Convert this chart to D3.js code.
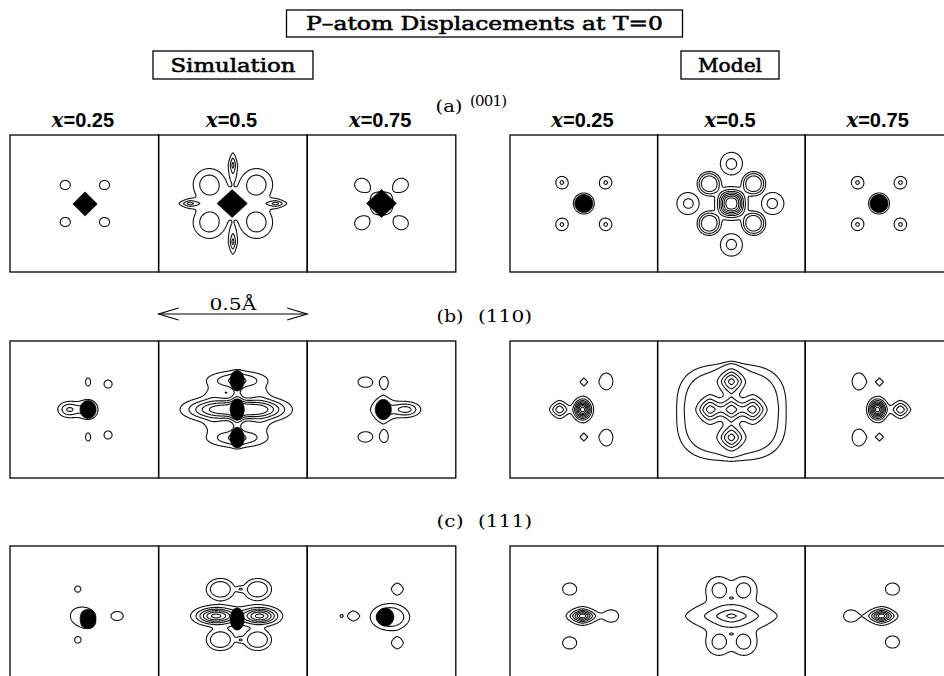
<!DOCTYPE html>
<html>
<head>
<meta charset="utf-8">
<script src="https://cdn.jsdelivr.net/npm/d3@7"></script>
<style>
  body { margin: 0; background: #fff; }
  svg { display: block; }
</style>
</head>
<body>
<svg id="chart" width="944" height="676"></svg>
<script>
// ---------------------------------------------------------------
// Displacement density maps of the P atom, drawn as contour plots.
// Coordinates in pm (panel spans 50 pm = 0.5 Å across).
// peaks: [x, y, amplitude, sx, sy, profile exponent, (norm exponent)]
//        -> line contours; the norm defaults to min(profile, 2)
// cores: [x, y, rx, ry, exponent] -> filled black cores
// ---------------------------------------------------------------
const compositions = ["0.25", "0.5", "0.75"];
const groupNames = ["Simulation", "Model"];
const rowTags = ["(a)", "(b)", "(c)"];
const rowPlanes = ["(001)", "(110)", "(111)"];
const titleText = "P\u2013atom Displacements at T=0";
const scaleText = "0.5\u00C5";

// ----- (a) (001) -----
const simAPeaks = [
  [[-6.4, 6.25, 1.6, 2.47, 2.25, 2], [6.8, 6.25, 1.6, 2.47, 2.25, 2],
   [-6.4, -6.25, 1.6, 2.47, 2.25, 2], [6.8, -6.25, 1.6, 2.47, 2.25, 2]],
  [[-7.95, 6.4, 2.9, 5.24, 5.24, 2], [7.95, 6.4, 2.9, 5.24, 5.24, 2],
   [-7.95, -6.4, 2.9, 5.24, 5.24, 2], [7.95, -6.4, 2.9, 5.24, 5.24, 2],
   [0, 0, 1.9, 4.06, 4.06, 2],
   [0, 13.0, 3.3, 1.27, 3.65, 1.5], [0, -13.0, 3.3, 1.27, 3.65, 1.5],
   [-14.5, 0, 3.3, 3.18, 1.27, 1.5], [14.5, 0, 3.3, 3.18, 1.27, 1.5]],
  [[-6.76, 6.42, 1.6, 3.2, 2.96, 2], [6.76, 6.42, 1.6, 3.2, 2.96, 2],
   [-6.76, -6.76, 1.6, 3.2, 2.96, 2], [6.76, -6.76, 1.6, 3.2, 2.96, 2],
   [0, 0, 1.6, 5.68, 5.68, 2]]
];
const simACores = [
  [[0.25, -0.15, 4.1, 4.1, 1]],
  [[-0.25, 0, 5.1, 4.7, 1]],
  [[0, 0, 5.07, 4.73, 1]]
];
const simALevels = [[1], [1, 2, 3], [1]];

const modelAPeaks = [
  [[0, 0, 1.6, 5.17, 5.17, 2],
   [-7.44, 7.1, 2.1, 2.37, 2.37, 2], [7.44, 7.1, 2.1, 2.37, 2.37, 2],
   [-7.44, -7.1, 2.1, 2.37, 2.37, 2], [7.44, -7.1, 2.1, 2.37, 2.37, 2]],
  [[0, 0, 0.6, 9.46, 9.46, 2],
   [-7.6, 6.76, 3.6, 3.72, 3.72, 4], [7.6, 6.76, 3.6, 3.72, 3.72, 4],
   [-7.6, -6.76, 3.6, 3.72, 3.72, 4], [7.6, -6.76, 3.6, 3.72, 3.72, 4],
   [0, 0, 7.5, 3.93, 3.93, 2.5, 2.5],
   [0, 13.6, 2.0, 4.0, 4.0, 4], [0, -14.1, 2.0, 4.0, 4.0, 4],
   [-14.8, 0, 2.0, 4.0, 4.0, 4], [14.1, 0, 2.0, 4.0, 4.0, 4]],
  [[0, 0, 1.6, 5.17, 5.17, 2],
   [-7.3, 7.1, 2.1, 2.37, 2.37, 2], [7.3, 7.1, 2.1, 2.37, 2.37, 2],
   [-7.3, -7.1, 2.1, 2.37, 2.37, 2], [7.3, -7.1, 2.1, 2.37, 2.37, 2]]
];
const modelACores = [[[0, 0, 3.05, 3.05, 2]], [], [[0, 0, 3.05, 3.05, 2]]];
const modelALevels = [[1, 2], [1, 2, 3, 4, 5, 6, 7], [1, 2]];

// ----- (b) (110) -----
const simBPeaks = [
  [[-5.15, 0, 3.1, 3.55, 2.54, 2], [1.27, 0, 2.5, 3.5, 3.5, 2],
   [1.27, 9.3, 1.6, 1.23, 1.97, 2], [8.0, 8.6, 1.6, 1.97, 1.97, 2],
   [1.27, -9.3, 1.6, 1.23, 1.97, 2], [8.0, -8.6, 1.6, 1.97, 1.97, 2]],
  [[-4.9, 0, 5.3, 10.0, 3.4, 2], [8.64, 0, 5.3, 8.8, 3.4, 2],
   [1.44, 9.8, 3.2, 9.5, 3.0, 2], [1.44, -9.6, 3.2, 9.5, 3.0, 2],
   [1.44, 0, 2.0, 2.0, 10.0, 2],
   [-6.76, 5.4, 0.9, 3.4, 2.4, 2], [-6.76, -5.4, 0.9, 3.4, 2.4, 2],
   [9.46, 5.4, 0.9, 3.4, 2.4, 2], [9.46, -5.4, 0.9, 3.4, 2.4, 2]],
  [[0.6, 0, 3, 4.06, 4.4, 1.5], [8.37, 0, 3.3, 4.4, 2.37, 2],
   [-5.5, 9.3, 1.6, 3.45, 2.47, 2], [0.93, 9.3, 1.6, 1.73, 2.47, 2],
   [-5.5, -9.3, 1.6, 3.45, 2.47, 2], [0.93, -9.3, 1.6, 1.73, 2.47, 2]]
];
const simBCores = [
  [[1.27, 0, 2.7, 3.04, 2]],
  [[1.44, 9.8, 2.37, 3.38, 2], [1.44, 0, 2.37, 3.38, 2], [1.44, -9.6, 2.37, 3.38, 2]],
  [[0.6, 0, 2.7, 3.4, 2]]
];
const simBLevels = [[1, 2, 3], [1, 2, 3, 4, 5], [1, 2, 3]];

const modelBPeaks = [
  [[-0.42, 0, 8.5, 2.54, 2.87, 2], [-8.2, 0, 3.6, 3.04, 2.7, 2, 1.5],
   [0, 9.3, 1.6, 2.87, 2.87, 1], [0, -9.3, 1.6, 2.87, 2.87, 1],
   [7.7, 9.5, 1.6, 2.96, 3.95, 2], [7.7, -9.5, 1.6, 2.96, 3.95, 2]],
  [[0, -1.0, 1.6, 22.4, 19.6, 4, 3],
   [0, 0, 4, 3.7, 3.7, 2, 1.5], [0, 9.5, 4, 3.7, 3.7, 2, 1.5], [0, -9.5, 4, 3.7, 3.7, 2, 1.5],
   [-7.27, 0, 4, 3.7, 3.7, 2, 1.5], [7.27, 0, 4, 3.7, 3.7, 2, 1.5]],
  [[-0.5, 0, 8.5, 2.54, 2.87, 2], [7.27, 0, 3.6, 3.04, 2.7, 2, 1.5],
   [0.17, 9.3, 1.6, 2.87, 2.87, 1], [0.17, -9.3, 1.6, 2.87, 2.87, 1],
   [-6.93, 9.5, 1.6, 2.96, 3.95, 2], [-6.93, -9.5, 1.6, 2.96, 3.95, 2]]
];
const modelBCores = [[], [], []];
const modelBLevels = [[1, 2, 3, 4, 5, 6, 7, 8], [1, 1.25, 2.2, 3.2, 4.2, 5.2], [1, 2, 3, 4, 5, 6, 7, 8]];

// ----- (c) (111) -----
const simCPeaks = [
  [[-2.28, -0.5, 1.6, 3.2, 3.2, 2], [1.27, -1.52, 1.6, 3.5, 4.3, 2],
   [-2.2, 8.6, 1.6, 1.5, 1.5, 2], [-2.2, -8.6, 1.6, 1.5, 1.5, 2],
   [11.07, -0.5, 1.6, 2.96, 2.22, 2]],
  [[1.4, 0, 0.5, 13.5, 12.8, 2],
   [-4.3, 8.6, 2.7, 4.4, 3.4, 3], [8.37, 8.6, 2.7, 4.4, 3.4, 3],
   [-4.3, -8.6, 2.7, 4.4, 3.4, 3], [8.37, -8.6, 2.7, 4.4, 3.4, 3],
   [2.45, 8.6, 1.5, 1.35, 1.0, 2], [2.45, -8.6, 1.5, 1.35, 1.0, 2],
   [-5.75, -0.5, 6, 6.1, 2.54, 2], [9.1, -0.5, 6, 5.5, 2.54, 2]],
  [[2.87, -0.85, 6, 4.93, 3.38, 2],
   [-9.47, -0.5, 2.4, 2.2, 1.86, 1.5], [-13.5, -0.5, 1.15, 0.81, 0.81, 2],
   [5.32, 8.6, 2.4, 2.2, 2.2, 1.5], [5.32, -9.6, 2.4, 2.2, 2.2, 1.5]]
];
const simCCores = [
  [[1.27, -1.52, 2.64, 3.2, 2.5]],
  [[1.44, -1.52, 2.37, 3.72, 2]],
  [[1.27, -0.85, 2.87, 3.04, 2]]
];
const simCLevels = [[1], [1, 2, 3, 4, 5, 6], [1, 2.5]];

const modelCPeaks = [
  [[-0.42, -0.5, 7, 3.7, 2.1, 1.6],
   [-4.8, 8.6, 1.6, 3.45, 2.96, 2], [-4.8, -9.6, 1.6, 3.45, 2.96, 2], [9.4, -0.5, 1.6, 3.45, 2.96, 2]],
  [[0, -0.5, 5.4, 9.2, 3.7, 1.5],
   [-4.23, 8.45, 3.05, 3.4, 3.4, 2], [4.23, 8.45, 3.05, 3.4, 3.4, 2],
   [-4.23, -9.46, 3.05, 3.4, 3.4, 2], [4.23, -9.46, 3.05, 3.4, 3.4, 2],
   [0, 5.58, 0.9, 1.2, 0.7, 2], [0, -6.6, 0.9, 1.2, 0.7, 2]],
  [[0.85, -0.5, 7, 3.7, 2.1, 1.6],
   [4.56, 8.6, 1.6, 3.45, 2.96, 2], [4.56, -9.3, 1.6, 3.45, 2.96, 2], [-9.6, -0.5, 1.6, 3.45, 2.96, 2]]
];
const modelCCores = [[], [], []];
const modelCLevels = [[1, 2, 3, 4, 5, 6], [0.6, 2, 3.6, 5], [1, 2, 3, 4, 5, 6]];

// rows x groups, assembled from the arrays above
const rowsData = [
  [[simAPeaks, simACores, simALevels], [modelAPeaks, modelACores, modelALevels]],
  [[simBPeaks, simBCores, simBLevels], [modelBPeaks, modelBCores, modelBLevels]],
  [[simCPeaks, simCCores, simCLevels], [modelCPeaks, modelCCores, modelCLevels]]
];

// ----- layout -----
const groupX = [10, 510];
const groupStep = [148.6, 147.6];
const rowY = [135, 341, 546];
const panelH = 137;
const RES = 2;
const serif = "'DejaVu Serif', serif";

const svg = d3.select("#chart");
svg.append("rect").attr("width", 944).attr("height", 676).attr("fill", "#fff");
const defs = svg.append("defs");

function peakValue(pk, xv, yv) {
  const [px, py, a, sx, sy, p] = pk;
  const q = pk.length > 6 ? pk[6] : Math.min(p, 2);
  const u = Math.abs(xv - px) / sx, v = Math.abs(yv - py) / sy;
  const d = Math.pow(Math.pow(u, q) + Math.pow(v, q), 1 / q);
  const e = Math.pow(d, p);
  return e > 40 ? 0 : a * Math.exp(-e);
}
function coreValue(c, xv, yv) {
  const [cx, cy, rx, ry, p] = c;
  const e = Math.pow(Math.abs(xv - cx) / rx, p) + Math.pow(Math.abs(yv - cy) / ry, p);
  return e > 40 ? 0 : Math.exp(1 - e);
}

let clipId = 0;
function drawPanel(g, w, h, peaks, cores, levels) {
  const x = d3.scaleLinear().domain([-25, 25]).range([0, w]);
  const y = d3.scaleLinear().domain([-23.15, 23.15]).range([h, 0]);
  const gx = Math.round(w * RES), gy = Math.round(h * RES);
  const xs = d3.range(gx).map(i => x.invert((i + 0.5) / RES));
  const ys = d3.range(gy).map(j => y.invert((j + 0.5) / RES));
  const grid = (list, fn) => {
    const v = new Float64Array(gx * gy);
    for (let j = 0; j < gy; j++) {
      for (let i = 0; i < gx; i++) {
        let s = 0;
        for (const it of list) s += fn(it, xs[i], ys[j]);
        v[j * gx + i] = s;
      }
    }
    return v;
  };
  const path = d3.geoPath(d3.geoIdentity().scale(1 / RES));
  const id = "clip" + (clipId++);
  defs.append("clipPath").attr("id", id)
    .append("rect").attr("width", w).attr("height", h);
  const body = g.append("g").attr("clip-path", `url(#${id})`);

  const lines = d3.contours().size([gx, gy]).thresholds(levels)(grid(peaks, peakValue));
  body.selectAll("path.line").data(lines).join("path")
    .attr("class", "line")
    .attr("d", path)
    .attr("fill", "none")
    .attr("stroke", "#111")
    .attr("stroke-width", 1.1)
    .attr("stroke-linejoin", "round");

  if (cores.length) {
    const filled = d3.contours().size([gx, gy]).thresholds([1])(grid(cores, coreValue));
    body.selectAll("path.core").data(filled).join("path")
      .attr("class", "core")
      .attr("d", path)
      .attr("fill", "#000")
      .attr("stroke", "#000")
      .attr("stroke-width", 0.8);
  }

  g.append("rect").attr("width", w).attr("height", h)
    .attr("fill", "none").attr("stroke", "#000").attr("stroke-width", 1.3);
}

rowsData.forEach((row, r) => {
  row.forEach(([peaksRow, coresRow, levelsRow], gi) => {
    compositions.forEach((c, k) => {
      const w = groupStep[gi];
      const g = svg.append("g")
        .attr("transform", `translate(${groupX[gi] + k * w},${rowY[r]})`);
      drawPanel(g, w, panelH, peaksRow[k], coresRow[k], levelsRow[k]);
    });
  });
});

// ----- title and group boxes -----
function boxedLabel(cx, top, bw, bh, txt, size, len, baseline) {
  svg.append("rect").attr("x", cx - bw / 2).attr("y", top).attr("width", bw).attr("height", bh)
    .attr("fill", "none").attr("stroke", "#000").attr("stroke-width", 1.3);
  svg.append("text").attr("x", cx).attr("y", baseline)
    .attr("text-anchor", "middle").attr("font-family", serif)
    .attr("stroke", "#000").attr("stroke-width", 0.55)
    .attr("font-size", size).attr("textLength", len).attr("lengthAdjust", "spacingAndGlyphs")
    .text(txt);
}
boxedLabel(484.5, 10, 396, 27, titleText, 18, 357, 30);
boxedLabel(233, 51, 160, 28, groupNames[0], 18, 125, 72);
boxedLabel(730, 51, 98, 28, groupNames[1], 18, 64, 72);

// ----- composition headers -----
groupX.forEach((gx0, gi) => {
  compositions.forEach((c, k) => {
    const cx = gx0 + (k + 0.5) * groupStep[gi] - 1.5;
    const t = svg.append("text").attr("x", cx).attr("y", 127)
      .attr("text-anchor", "middle").attr("font-size", 20).attr("font-weight", "bold");
    t.append("tspan").attr("font-family", serif).attr("font-style", "italic").text("x");
    t.append("tspan").attr("font-family", "'Liberation Sans', Arial, sans-serif").text("=" + c);
  });
});

// ----- row captions -----
const tagPos = [[449, 112, 470, 106], [450, 322, 478, 322], [450, 527, 478, 527]];
rowTags.forEach((tag, r) => {
  const [tx, ty, px, py] = tagPos[r];
  svg.append("text").attr("x", tx).attr("y", ty).attr("text-anchor", "middle")
    .attr("font-family", serif).attr("font-size", 16).attr("textLength", 27)
    .attr("lengthAdjust", "spacingAndGlyphs").text(tag);
  const plane = svg.append("text").attr("x", px).attr("y", py)
    .attr("font-family", serif).text(rowPlanes[r]);
  if (r === 0) {
    plane.attr("font-size", 15).attr("letter-spacing", -0.8);
  } else {
    plane.attr("font-size", 16).attr("textLength", 54).attr("lengthAdjust", "spacingAndGlyphs");
  }
});

// ----- length scale: 0.5 Å spans one panel -----
const scaleX = d3.scaleLinear().domain([0, 0.5]).range([groupX[0] + groupStep[0], groupX[0] + 2 * groupStep[0]]);
const ay = 314;
const arrow = svg.append("g").attr("stroke", "#000").attr("stroke-width", 1.1).attr("fill", "none");
arrow.append("line").attr("x1", scaleX(0)).attr("x2", scaleX(0.5)).attr("y1", ay).attr("y2", ay);
arrow.append("path").attr("d", `M${scaleX(0) + 20},${ay - 6}L${scaleX(0)},${ay}L${scaleX(0) + 20},${ay + 6}`);
arrow.append("path").attr("d", `M${scaleX(0.5) - 20},${ay - 6}L${scaleX(0.5)},${ay}L${scaleX(0.5) - 20},${ay + 6}`);
svg.append("text").attr("x", scaleX(0.25)).attr("y", 310).attr("text-anchor", "middle")
  .attr("font-family", serif).attr("font-size", 16).attr("textLength", 47)
  .attr("lengthAdjust", "spacingAndGlyphs").text(scaleText);
</script>
</body>
</html>
